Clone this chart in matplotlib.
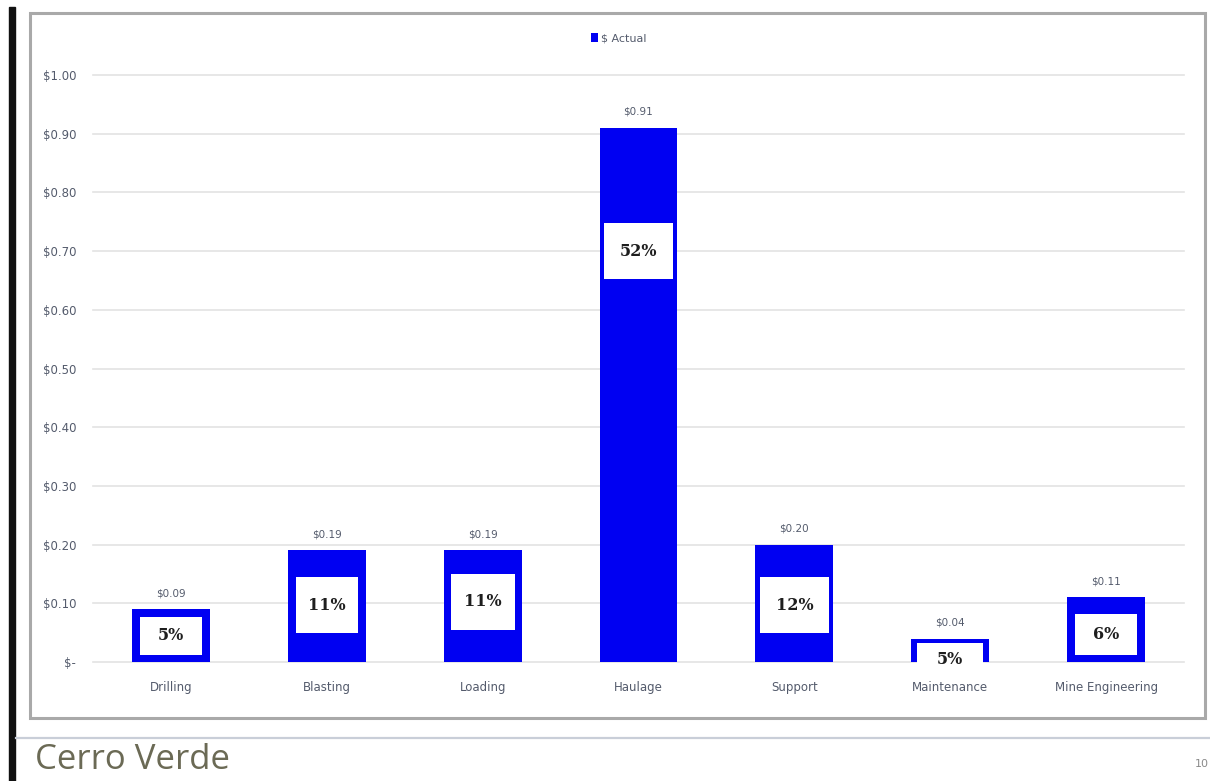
import matplotlib.pyplot as plt
from matplotlib.patches import Rectangle
from matplotlib.lines import Line2D

categories = ["Drilling", "Blasting", "Loading", "Haulage", "Support",
              "Maintenance", "Mine Engineering"]
actual = [0.09, 0.19, 0.19, 0.91, 0.20, 0.04, 0.11]
value_labels = ["$0.09", "$0.19", "$0.19", "$0.91", "$0.20", "$0.04", "$0.11"]
share_labels = ["5%", "11%", "11%", "52%", "12%", "5%", "6%"]
y_ticks = [0.0, 0.1, 0.2, 0.3, 0.4, 0.5, 0.6, 0.7, 0.8, 0.9, 1.0]
y_ticklabels = ["$-", "$0.10", "$0.20", "$0.30", "$0.40", "$0.50",
                "$0.60", "$0.70", "$0.80", "$0.90", "$1.00"]

# white boxes pasted over the bars (bottom, top in data units, width in bar slots)
box_bottom = [0.012, 0.049, 0.055, 0.652, 0.049, -0.022, 0.012]
box_top = [0.077, 0.145, 0.150, 0.748, 0.145, 0.032, 0.082]
box_width = [0.40, 0.40, 0.41, 0.44, 0.44, 0.42, 0.40]

BLUE = "#0000f2"
GREY_TXT = "#545b6c"

fig = plt.figure(figsize=(12.1, 7.81), dpi=100)
fig.patch.set_facecolor("white")

# slide decorations
fig.add_artist(Rectangle((9 / 1210, 0), 6 / 1210, 1 - 7 / 781,
                         transform=fig.transFigure, color="#111111"))
fig.add_artist(Rectangle((30 / 1210, 1 - 718 / 781), 1175 / 1210, 705 / 781,
                         transform=fig.transFigure, facecolor="none",
                         edgecolor="#a9a9a9", linewidth=2.2))
fig.add_artist(Line2D([16 / 1210, 1], [1 - 738 / 781] * 2,
                      transform=fig.transFigure, color="#c9ced8", linewidth=1.6))
fig.text(35 / 1210, 1 - 769 / 781, "Cerro Verde", fontsize=25,
         family="Open Sans", color="#6b6a55", va="baseline", ha="left")
fig.text(1195 / 1210, 1 - 767 / 781, "10", fontsize=8, color="#8a8a8a",
         va="baseline", ha="left")

ax = fig.add_axes([93 / 1210, 1 - 662 / 781, 1091 / 1210, 587 / 781])
x = list(range(len(categories)))
bars = ax.bar(x, actual, width=0.5, color=BLUE, label="$ Actual", zorder=2)

for i, v in enumerate(actual):
    ax.annotate(value_labels[i], (x[i], v), xytext=(0, 8),
                textcoords="offset points", ha="center", va="bottom",
                fontsize=7.5, color=GREY_TXT)
    w = box_width[i]
    ax.add_patch(Rectangle((x[i] - w / 2, box_bottom[i]), w,
                           box_top[i] - box_bottom[i], facecolor="white",
                           edgecolor="none", zorder=3, clip_on=False))
    ax.text(x[i], (box_bottom[i] + box_top[i]) / 2, share_labels[i],
            ha="center", va="center", fontsize=11.5, fontweight="bold",
            family="DejaVu Serif", color="#1e1e1e", zorder=4)

ax.set_xlim(-0.5, 6.5)
ax.set_ylim(0, 1.0)
ax.set_yticks(y_ticks)
ax.set_yticklabels(y_ticklabels)
ax.set_xticks(x)
ax.set_xticklabels(categories)
ax.tick_params(axis="y", length=0, pad=12, labelsize=8.5, labelcolor=GREY_TXT)
ax.tick_params(axis="x", length=0, pad=14, labelsize=8.5, labelcolor=GREY_TXT)
ax.grid(axis="y", color="#e3e3e3", linewidth=1.2, zorder=0)
for gl in ax.get_ygridlines():
    gl.set_clip_on(False)
ax.set_axisbelow(True)
for s in ax.spines.values():
    s.set_visible(False)

ax.legend(handles=[bars], loc="center", bbox_to_anchor=(0.482, 1.063),
          frameon=False, fontsize=8, handlelength=0.6, handleheight=0.9,
          handletextpad=0.3, labelcolor=GREY_TXT)

fig.savefig("out.png", dpi=100)
